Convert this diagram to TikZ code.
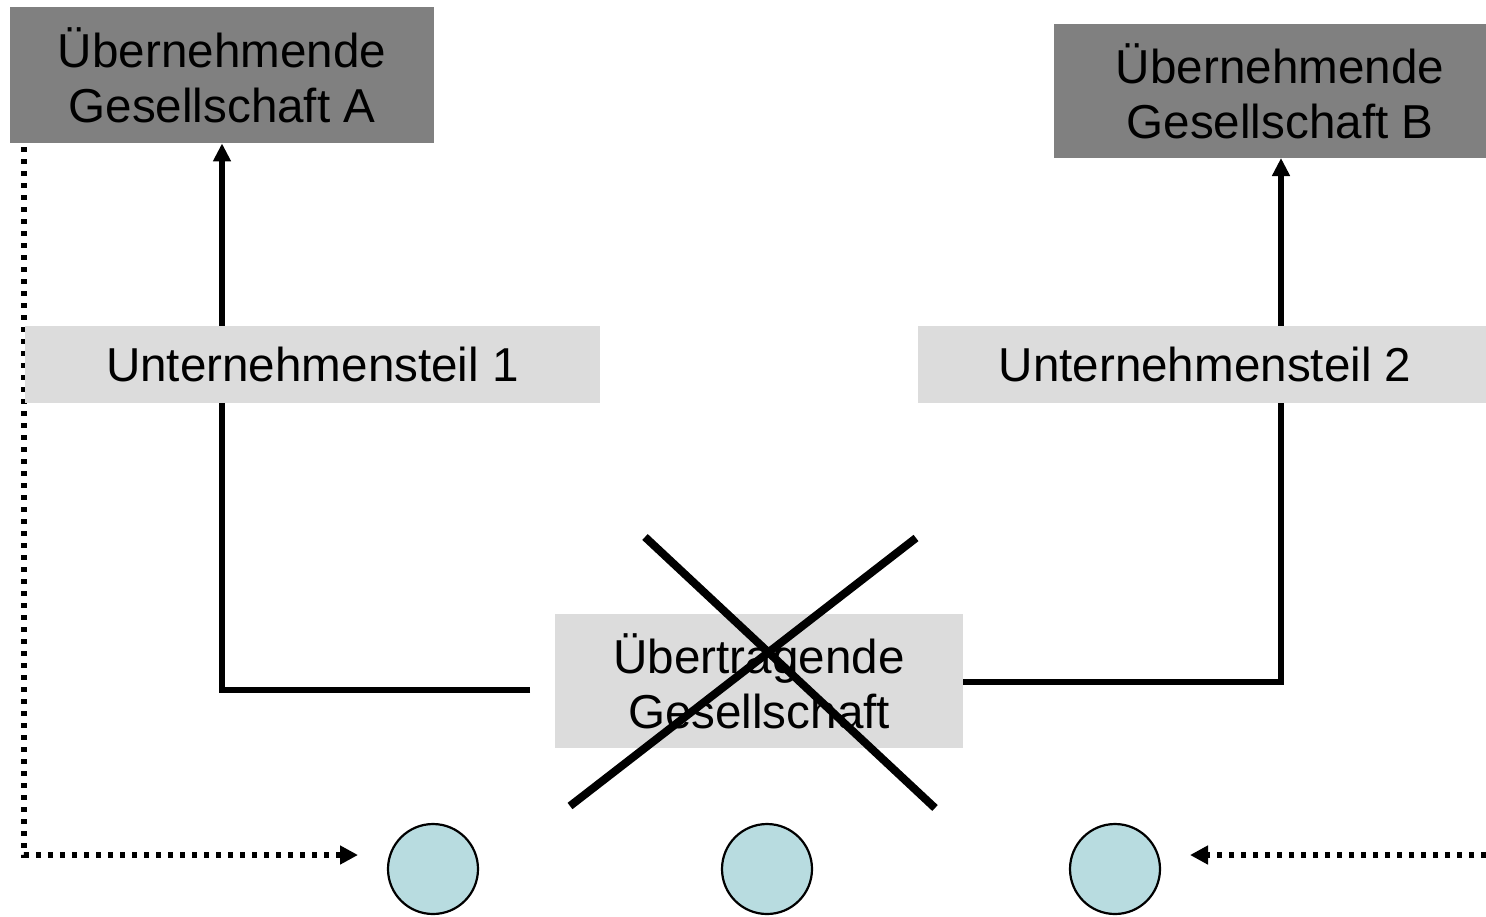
\documentclass[tikz,border=0pt]{standalone}
\usepackage{fontspec}
\setmainfont{Liberation Sans}
\usetikzlibrary{arrows.meta,backgrounds}
\definecolor{darkbox}{HTML}{808080}
\definecolor{lightbox}{HTML}{DCDCDC}
\definecolor{circfill}{RGB}{184,220,224}
\tikzset{
  lbl/.style={font=\fontsize{23.8pt}{27.5pt}\selectfont, align=center, inner sep=0pt},
  darkrect/.style={fill=darkbox, inner sep=0pt},
  lightrect/.style={fill=lightbox, inner sep=0pt},
  conn/.style={line width=2.8pt, -{Triangle[length=9pt,width=8.5pt]}},
  dotline/.style={line width=3pt, dash pattern=on 2.6pt off 3.4pt, -{Triangle[length=9pt,width=9pt]}},
  cross/.style={line width=4pt},
  dotnode/.style={circle, draw=black, line width=1.1pt, fill=circfill, minimum size=45pt, inner sep=0pt}
}
\begin{document}
\begin{tikzpicture}[x=0.5pt,y=-0.5pt]
\useasboundingbox (0,0) rectangle (1486,916);
% boxes
\node[darkrect, minimum width=212pt, minimum height=68pt] (A) at (222,75) {};
\node[lbl] (At) at (222,75) {Übernehmende\\Gesellschaft A};
\node[darkrect, minimum width=216pt, minimum height=67pt] (B) at (1270,91) {};
\node[lbl] (Bt) at (1280,91) {Übernehmende\\Gesellschaft B};
\node[lightrect, minimum width=287.5pt, minimum height=38.5pt] (U1) at (312.5,364.5) {};
\node[lbl] (U1t) at (312.5,364.5) {Unternehmensteil 1};
\node[lightrect, minimum width=284pt, minimum height=38.5pt] (U2) at (1202,364.5) {};
\node[lbl] (U2t) at (1205,364.5) {Unternehmensteil 2};
\node[lightrect, minimum width=204pt, minimum height=67pt] (T) at (759,681) {};
\node[lbl] (Tt) at (759,681) {Übertragende\\Gesellschaft};
% circles
\node[dotnode] (c1) at (433,869) {};
\node[dotnode] (c2) at (767,869) {};
\node[dotnode] (c3) at (1115,869) {};
% connectors behind
\coordinate (a1) at (530,690);
\coordinate (b1) at (1281,158);
\coordinate (d0) at (24,147);
\coordinate (d1) at (358,855);
\coordinate (e0) at (1486,855);
\coordinate (e1) at (1190,855);
\begin{scope}[on background layer]
\draw[conn] (a1) -| (A.south);
\draw[conn] (T.east |- 0,682) -| (b1);
\draw[dotline] (d0) |- (d1);
\end{scope}
\draw[dotline] (e0) -- (e1);
% cross
\coordinate (x1) at (645,537);
\coordinate (x2) at (935,808);
\coordinate (x3) at (916,538);
\coordinate (x4) at (570,806);
\draw[cross] (x1) -- (x2);
\draw[cross] (x3) -- (x4);
\end{tikzpicture}
\end{document}
